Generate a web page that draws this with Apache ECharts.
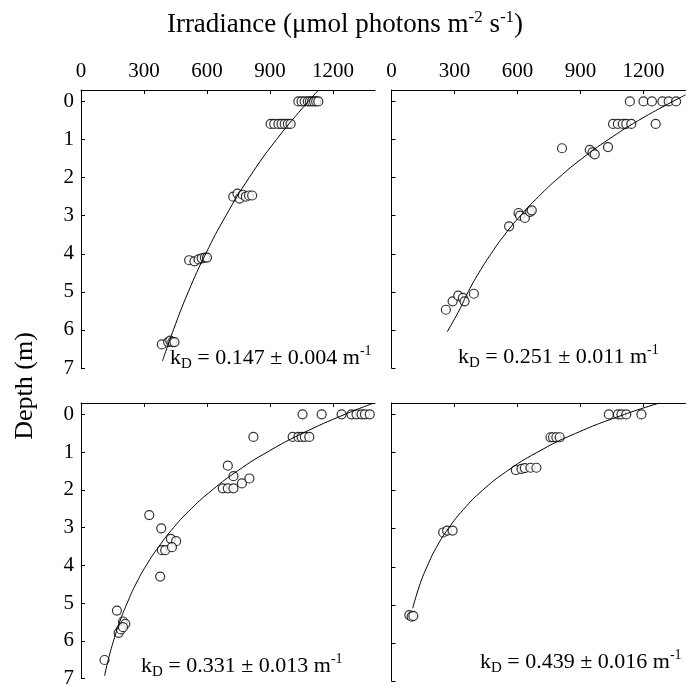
<!DOCTYPE html>
<html>
<head>
<meta charset="utf-8">
<script src="https://cdn.jsdelivr.net/npm/echarts@6/dist/echarts.min.js"></script>
<style>
html,body{margin:0;padding:0;background:#fff;}
#c{width:690px;height:689px;}
</style>
</head>
<body>
<div id="c"></div>
<script>
// ---- tick labels ----
const xTicks = [0, 300, 600, 900, 1200];
const yTicks = [0, 1, 2, 3, 4, 5, 6, 7];

// ---- panel A (top-left) ----
const aPtsIrr = [1035,1050,1065,1080,1090,1100,1110,1120,1130, 903,920,940,955,970,985,998, 725,745,755,770,785,800,815, 515,540,560,575,590,600, 385,415,425,435,445];
const aPtsDep = [0,0,0,0,0,0,0,0,0, 0.59,0.59,0.59,0.59,0.59,0.59,0.59, 2.5,2.42,2.55,2.45,2.5,2.47,2.47, 4.17,4.2,4.15,4.12,4.1,4.1, 6.38,6.32,6.28,6.32,6.32];
const aFitIrr = [1132,1082,931,801,690,594,511,440,388];
const aFitDep = [-0.3,0,1,2,3,4,5,6,6.82];
const aLabel = '0.147 ± 0.004';

// ---- panel B (top-right) ----
const bPtsIrr = [1135,1200,1240,1290,1320,1355, 1055,1078,1102,1118,1142,1258, 812,944,957,968,1031, 560,605,612,635,660,668, 259,291,318,340,348,392];
const bPtsDep = [0,0,0,0,0,0, 0.59,0.59,0.59,0.59,0.59,0.59, 1.23,1.27,1.34,1.39,1.2, 3.28,2.93,3.0,3.06,2.9,2.86, 5.47,5.25,5.1,5.16,5.25,5.05];
const bFitIrr = [1400,1340,1176,1033,907,797,700,614,539,474,416,365,321,265];
const bFitDep = [-0.17,0,0.5,1,1.5,2,2.5,3,3.5,4,4.5,5,5.5,6.05];
const bLabel = '0.251 ± 0.011';

// ---- panel C (bottom-left) ----
const cPtsIrr = [1055,1146,1241,1288,1312,1336,1352,1375, 821,1008,1035,1051,1066,1087, 699,726,802,766,675,699,726, 325,382,428,453,385,401,433,377, 171,200,211,179,190,200, 112];
const cPtsDep = [0,0,0,0,0,0,0,0, 0.6,0.6,0.6,0.6,0.6,0.6, 1.36,1.64,1.7,1.83,1.96,1.96,1.96, 2.67,3.02,3.3,3.36,3.6,3.6,3.52,4.3, 5.2,5.49,5.55,5.79,5.7,5.64, 6.51];
const cFitIrr = [1391,1257,1056,887,745,626,525,441,371,311,261,220,184,155,130,112];
const cFitDep = [-0.29,0,0.5,1,1.5,2,2.5,3,3.5,4,4.5,5,5.5,6,6.5,6.93];
const cLabel = '0.331 ± 0.013';

// ---- panel D (bottom-right) ----
const dPtsIrr = [1035,1078,1095,1118,1190, 757,769,785,801, 592,619,635,662,690, 246,265,291, 85,96,104];
const dPtsDep = [0,0,0,0,0, 0.6,0.6,0.6,0.6, 1.46,1.43,1.41,1.4,1.4, 3.1,3.05,3.05, 5.27,5.31,5.29];
const dFitIrr = [1277,1109,876,692,547,432,342,270,213,169,133,101];
const dFitDep = [-0.3,0,0.5,1,1.5,2,2.5,3,3.5,4,4.5,5.09];
const dLabel = '0.439 ± 0.016';

const FONT = '"Liberation Serif","DejaVu Serif",serif';
const zip = (xs, ys) => xs.map((v, i) => [v, ys[i]]);

const panels = [
  {pi: aPtsIrr, pd: aPtsDep, fi: aFitIrr, fd: aFitDep, lab: aLabel},
  {pi: bPtsIrr, pd: bPtsDep, fi: bFitIrr, fd: bFitDep, lab: bLabel},
  {pi: cPtsIrr, pd: cPtsDep, fi: cFitIrr, fd: cFitDep, lab: cLabel},
  {pi: dPtsIrr, pd: dPtsDep, fi: dFitIrr, fd: dFitDep, lab: dLabel}
];

const gridPos = [
  {left: 81, top: 90, width: 294, height: 278},
  {left: 391.5, top: 90, width: 294, height: 278},
  {left: 81, top: 403, width: 294, height: 278},
  {left: 391.5, top: 403, width: 294, height: 278}
];

const labelPos = [
  {x: 170, y: 358}, {x: 458, y: 357}, {x: 141, y: 666}, {x: 480, y: 662}
];

const grids = gridPos.map(g => Object.assign({containLabel: false}, g));
const xAxes = gridPos.map((g, i) => ({
  type: 'value', gridIndex: i, min: 0, max: 1400, position: 'top',
  axisLine: {show: true, onZero: false, lineStyle: {color: '#000', width: 1}},
  axisTick: {show: true, inside: true, length: 4, customValues: xTicks, lineStyle: {color: '#000', width: 1}},
  axisLabel: {show: i < 2, customValues: xTicks, formatter: v => String(v), fontFamily: FONT, fontSize: 21, color: '#000', margin: 8},
  splitLine: {show: false}
}));
const yAxes = gridPos.map((g, i) => ({
  type: 'value', gridIndex: i, min: -0.3, max: 7, inverse: true,
  axisLine: {show: true, onZero: false, lineStyle: {color: '#000', width: 1}},
  axisTick: {show: true, inside: true, length: 4, customValues: yTicks, lineStyle: {color: '#000', width: 1}},
  axisLabel: {show: i % 2 === 0, customValues: yTicks, formatter: v => String(v), fontFamily: FONT, fontSize: 21, color: '#000', margin: 7},
  splitLine: {show: false}
}));

const series = [];
panels.forEach((p, i) => {
  series.push({
    type: 'scatter', xAxisIndex: i, yAxisIndex: i, symbol: 'circle', symbolSize: 9,
    itemStyle: {color: '#fff', borderColor: '#000', borderWidth: 1.2},
    data: zip(p.pi, p.pd), silent: true, z: 3
  });
  series.push({
    type: 'line', xAxisIndex: i, yAxisIndex: i, smooth: true, showSymbol: false,
    lineStyle: {color: '#000', width: 1}, data: zip(p.fi, p.fd), silent: true, z: 4
  });
});

const kRich = {
  sub: {fontFamily: FONT, fontSize: 15, lineHeight: 15, verticalAlign: 'bottom', fill: '#000'},
  sup: {fontFamily: FONT, fontSize: 14, lineHeight: 14, verticalAlign: 'top', fill: '#000'}
};

const graphics = [
  {
    type: 'text', left: 'center', top: 9, x: 0,
    style: {
      text: 'Irradiance (μmol photons m{sup|-2} s{sup|-1})',
      font: '27px ' + FONT, fill: '#000', lineHeight: 32,
      rich: {sup: {fontFamily: FONT, fontSize: 17, lineHeight: 17, verticalAlign: 'top', fill: '#000'}}
    }
  },
  {
    type: 'text', x: 25, y: 386, rotation: Math.PI / 2,
    style: {text: 'Depth (m)', font: '26px ' + FONT, fill: '#000', align: 'center', verticalAlign: 'middle'}
  }
];
panels.forEach((p, i) => {
  graphics.push({
    type: 'text', x: labelPos[i].x, y: labelPos[i].y,
    style: {
      text: 'k{sub|D} = ' + p.lab + ' m{sup|-1}',
      font: '22px ' + FONT, fill: '#000', lineHeight: 28,
      align: 'left', verticalAlign: 'middle', rich: kRich
    }
  });
});

const chart = echarts.init(document.getElementById('c'), null, {renderer: 'canvas'});
chart.setOption({
  animation: false,
  backgroundColor: '#fff',
  grid: grids, xAxis: xAxes, yAxis: yAxes, series: series,
  graphic: graphics
});
</script>
</body>
</html>
